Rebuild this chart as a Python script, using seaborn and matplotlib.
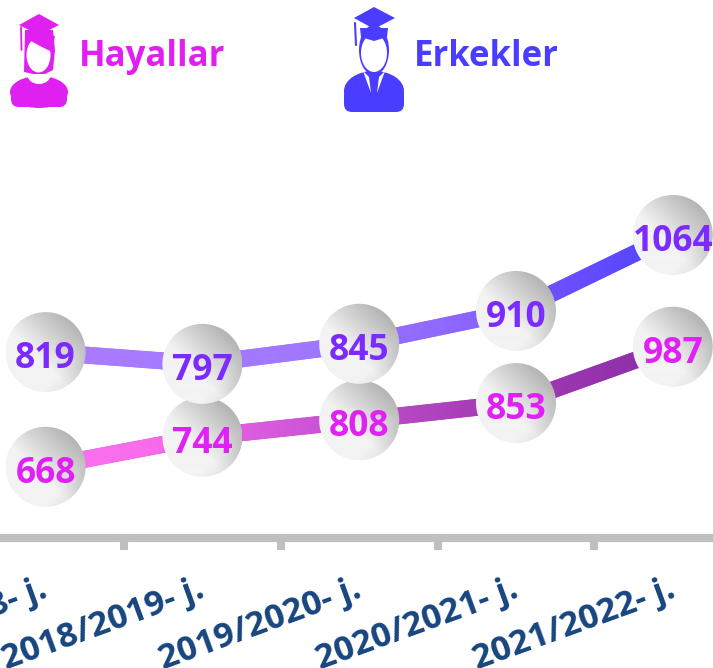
import numpy as np
import pandas as pd
import matplotlib.pyplot as plt
import seaborn as sns
from matplotlib.colors import LinearSegmentedColormap
from matplotlib.path import Path
from matplotlib.patches import Ellipse, PathPatch, Polygon, FancyBboxPatch
from matplotlib.transforms import IdentityTransform, ScaledTranslation

# --- dados ---
anos = ['2017/2018- j.', '2018/2019- j.', '2019/2020- j.', '2020/2021- j.', '2021/2022- j.']
erkekler_rotulos = [819, 797, 845, 910, 1064]
hayallar_rotulos = [668, 744, 808, 853, 987]
# alturas (as linhas nao seguem exatamente os rotulos)
erkekler_alturas = [825, 801, 842, 909, 1064]
hayallar_alturas = [591, 652, 686, 721, 836]

COR_ERKEK = '#4A3DFF'
COR_HAYAL = '#E020F0'
COR_NUM_ERKEK = '#7B2BFF'
COR_NUM_HAYAL = '#E020F5'
COR_EIXO = '#BFBFBF'
COR_ANO = '#17457F'

W, H = 713, 668
X0, PASSO = 45.6, 156.8
BASE = 537.7

sns.set_theme(style='white')
plt.rcParams['font.family'] = ['Open Sans', 'DejaVu Sans']

fig = plt.figure(figsize=(W / 100, H / 100), dpi=100)
ax = fig.add_axes([0, (H - BASE) / H, 1, BASE / H])
ax.set_xlim((0 - X0) / PASSO, (W - X0) / PASSO)
ax.set_ylim(1064 - (BASE - 235) / 0.49, 1064 + 235 / 0.49)
ax.set_autoscale_on(False)

df_e = pd.DataFrame({'pos': range(5), 'altura': erkekler_alturas})
df_h = pd.DataFrame({'pos': range(5), 'altura': hayallar_alturas})

# cmap horizontal das duas linhas
cmap_e = LinearSegmentedColormap.from_list('e', [(0, '#AE7DFF'), (0.42, '#A078FF'), (0.65, '#8C66FF'),
                                                 (0.78, '#6C50FF'), (1, '#4540FF')])
cmap_h = LinearSegmentedColormap.from_list('h', [(0, '#FF74F2'), (0.2, '#F96CEC'), (0.42, '#CF56D8'),
                                                 (0.65, '#A93FB8'), (1, '#842AA4')])
xlim = ax.get_xlim()
ylim = ax.get_ylim()


def linha_gradiente(df, cmap):
    linha = sns.lineplot(data=df, x='pos', y='altura', ax=ax, color=cmap(0.5), linewidth=12.2, zorder=2)
    lin = linha.get_lines()[-1]
    lin.set_solid_capstyle('butt')
    # recorta o gradiente com a faixa da propria linha
    pts = ax.transData.transform(df[['pos', 'altura']].to_numpy(dtype=float))
    vert, cod = [], []
    meia = 8.45
    for a, b in zip(pts[:-1], pts[1:]):
        d = (b - a) / np.hypot(*(b - a))
        n = np.array([-d[1], d[0]]) * meia
        vert += [a + n, b + n, b - n, a - n, a + n]
        cod += [Path.MOVETO, Path.LINETO, Path.LINETO, Path.LINETO, Path.CLOSEPOLY]
    faixa = PathPatch(Path(vert, cod), transform=IdentityTransform())
    img = ax.imshow(np.linspace(0, 1, 256)[None, :], cmap=cmap, aspect='auto', extent=(*xlim, *ylim), zorder=3)
    img.set_clip_path(faixa)


linha_gradiente(df_e, cmap_e)
linha_gradiente(df_h, cmap_h)

# fundo dos circulos: claro embaixo a esquerda, escuro em cima a direita
gx, gy = np.meshgrid(np.linspace(-1, 1, 160), np.linspace(1, -1, 160))
t = np.clip((gx * 0.7 + gy * 0.72 + 0.25) / 1.2, 0, 1)
t2 = np.clip((gx * 0.75 - gy * 0.7 - 0.65) / 0.5, 0, 1)
tom = 0.95 - 0.24 * t - 0.07 * t2
px_x = ax.transData.transform((1, 0))[0] - ax.transData.transform((0, 0))[0]
px_y = ax.transData.transform((0, 1))[1] - ax.transData.transform((0, 0))[1]
rx, ry = 40 / px_x, 40 / px_y


def circulos(df, rotulos, cor):
    for p, alt, rot in zip(df['pos'], df['altura'], rotulos):
        z = 5 + p * 0.1
        img = ax.imshow(tom, cmap='gray', vmin=0, vmax=1, aspect='auto',
                        extent=(p - rx, p + rx, alt - ry, alt + ry), zorder=z)
        el = Ellipse((p, alt), 2 * rx, 2 * ry, transform=ax.transData)
        img.set_clip_path(el)
        ax.annotate(str(rot), (p, alt), xytext=(0, -5), textcoords='offset points', ha='center', va='center',
                    fontsize=25.5, fontweight='bold', color=cor, zorder=z + 0.05, annotation_clip=False)


circulos(df_h, hayallar_rotulos, COR_NUM_HAYAL)
circulos(df_e, erkekler_rotulos, COR_NUM_ERKEK)

# eixo x
sns.despine(ax=ax, left=True, top=True, right=True)
ax.spines['bottom'].set_color(COR_EIXO)
ax.spines['bottom'].set_linewidth(5.9)
ax.set_yticks([])
ax.set_xlabel('')
ax.set_ylabel('')
ax.set_xticks(range(5))
ax.set_xticklabels(anos, rotation=20, ha='right', va='top', rotation_mode='anchor',
                   fontsize=24.8, fontweight='bold', color=COR_ANO)
ax.set_xticks([0.5, 1.5, 2.5, 3.5], minor=True)
ax.tick_params(axis='x', which='major', length=0, pad=25)
ax.tick_params(axis='x', which='minor', length=8.4, width=5.8, color=COR_EIXO, bottom=True)
desloc = ScaledTranslation(-5 / 100, 0, fig.dpi_scale_trans)
for lab in ax.get_xticklabels():
    lab.set_transform(lab.get_transform() + desloc)

# camada em pixels para cabecalho e icones
top = fig.add_axes([0, 0, 1, 1], facecolor='none')
top.set_xlim(0, W)
top.set_ylim(H, 0)
top.axis('off')

top.text(79, 57, 'Hayallar', color=COR_HAYAL, fontsize=25, fontweight='bold', ha='left', va='center')
top.text(414, 57, 'Erkekler', color=COR_ERKEK, fontsize=25, fontweight='bold', ha='left', va='center')

# icone feminino
c = COR_HAYAL
top.add_patch(Ellipse((39, 92), 58, 32, color=c, lw=0))
top.add_patch(FancyBboxPatch((11, 90), 56, 17, boxstyle='round,pad=0,rounding_size=8', color=c, lw=0))
top.add_patch(Ellipse((39, 75), 23, 18, color='white', lw=0))
top.add_patch(Polygon([(25, 30), (53, 30), (55, 50), (53, 70), (45, 74), (33, 74), (24, 72)], color=c, lw=0))
top.add_patch(Ellipse((38.5, 55), 24, 35, color='white', lw=0))
top.add_patch(Polygon([(26, 46), (31, 41), (40, 46), (52, 52), (55, 36), (25, 33)], color=c, lw=0))
top.add_patch(Polygon([(39, 14), (59, 25), (39, 35), (19, 25)], color=c, lw=0))
top.plot([21, 21.5], [27, 50], color=c, lw=1.3)

# icone masculino
c = COR_ERKEK
top.add_patch(FancyBboxPatch((344, 88), 60, 24, boxstyle='round,pad=0,rounding_size=8', color=c, lw=0))
top.add_patch(Ellipse((374, 91), 60, 40, color=c, lw=0))
top.add_patch(Ellipse((374, 50), 30, 50, color=c, lw=0))
top.add_patch(Ellipse((374, 53), 26, 38, color='white', lw=0))
top.add_patch(Polygon([(360, 28), (388, 28), (387, 37), (374, 41), (361, 37)], color=c, lw=0))
top.add_patch(Polygon([(363, 71), (371, 93), (369, 77)], color='white', lw=0))
top.add_patch(Polygon([(385, 71), (377, 93), (379, 77)], color='white', lw=0))
top.add_patch(Polygon([(354, 18), (374, 7), (395, 18), (374, 29)], color=c, lw=0))
top.plot([355, 356], [23, 45], color=c, lw=1.5)

plt.savefig('out.png', dpi=100)
